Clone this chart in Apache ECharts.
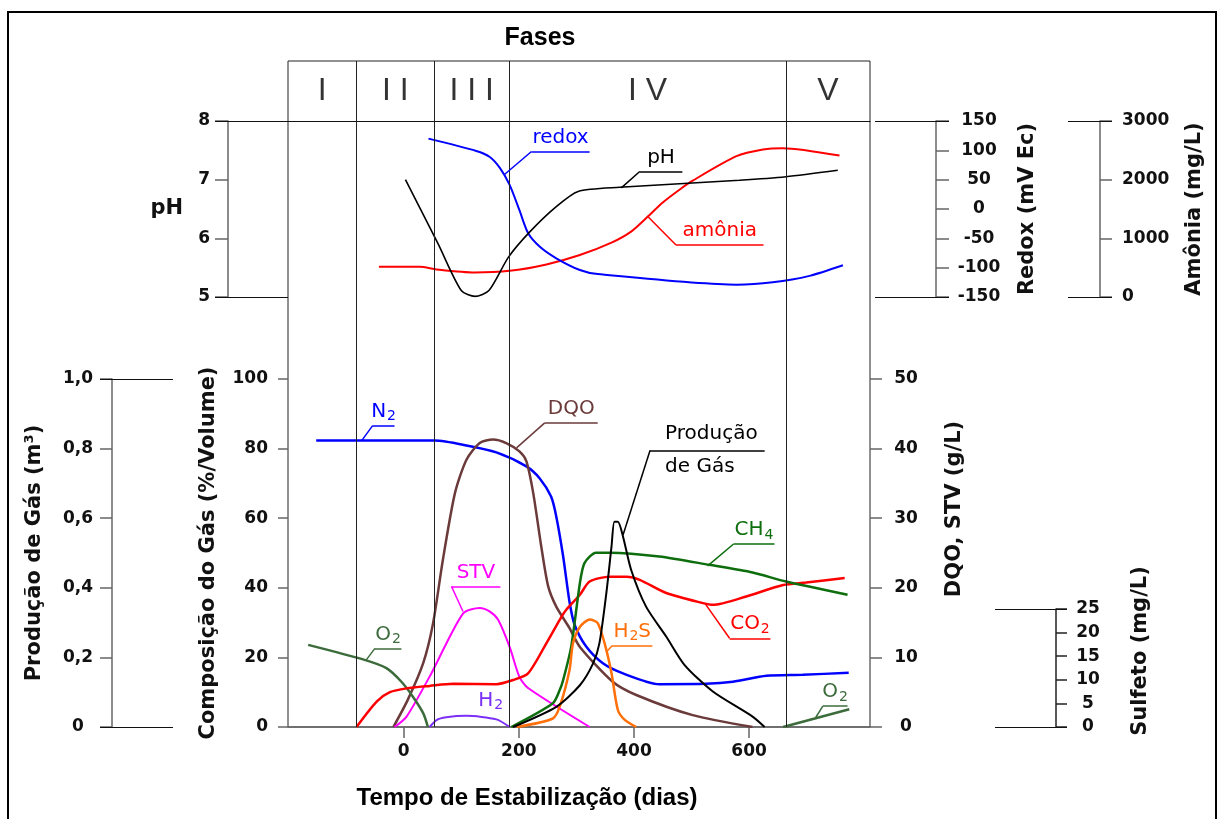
<!DOCTYPE html>
<html>
<head>
<meta charset="utf-8">
<title>Fases de estabilização</title>
<script src="https://cdn.jsdelivr.net/npm/echarts@6/dist/echarts.min.js"></script>
<style>
html, body { margin: 0; padding: 0; background: #fff; }
#container { width: 1221px; height: 819px; }
</style>
</head>
<body>
<div id="container"></div>
<script>
// eixo do tempo (dias)
var diasMin = -201, diasMax = 810;
var diasTicks = [0, 200, 400, 600];

// fases
var fases = ['I', 'II', 'III', 'IV', 'V'];
var limitesFases = [-201, -82, 53, 183, 664, 810];

// painel superior
var phDias = [3, 30, 60, 100, 124, 148, 182, 219, 265, 303, 375, 583, 664, 754];
var phValores = [7.0, 6.48, 5.9, 5.11, 5.01, 5.11, 5.68, 6.11, 6.54, 6.8, 6.87, 6.99, 7.05, 7.16];

var redoxDias = [43, 126, 149, 167, 184, 201, 216, 236, 265, 306, 337, 578, 641, 705, 763];
var redoxValores = [120, 99, 89, 70, 41, -2, -41, -64, -84, -104, -111, -129, -125, -114, -96];

var amoniaDias = [-43, 28, 57, 123, 184, 248, 306, 361, 395, 424, 450, 479, 502, 578, 624, 658, 757];
var amoniaValores = [514, 514, 470, 418, 446, 555, 715, 926, 1114, 1371, 1611, 1829, 1983, 2400, 2514, 2537, 2411];

// painel inferior - composição do gás (%)
var n2Dias = [-152, 54, 109, 161, 213, 236, 256, 265, 277, 288, 297, 317, 346, 381, 444, 525, 572, 630, 693, 773];
var n2Valores = [82.3, 82.3, 80.9, 78.9, 74.9, 71.5, 66.2, 60.5, 49, 36, 29.3, 23.1, 18.3, 15.4, 12.3, 12.4, 13, 14.7, 15, 15.6];

var o2Dias = [-166, -68, -30, -4, 16, 34, 42];
var o2Valores = [23.6, 19.3, 16.9, 13.0, 8.7, 3.9, 0];
var o2FinalDias = [659, 774];
var o2FinalValores = [0, 5.1];

var h2Dias = [45, 57, 74, 109, 161, 184];
var h2Valores = [0, 2, 2.8, 3.2, 2.2, 0];

var co2Dias = [-82, -47, -24, 5, 45, 86, 161, 190, 216, 248, 271, 282, 306, 323, 358, 387, 410, 456, 520, 537, 595, 659, 699, 766];
var co2Valores = [0, 7.3, 10, 11.1, 11.8, 12.4, 12.3, 13.5, 15.4, 24.1, 30.8, 33.6, 38, 41.8, 43.2, 43.2, 42.3, 38.5, 35.6, 35.1, 37.5, 40.8, 41.5, 42.8];

var ch4Dias = [187, 259, 271, 277, 291, 306, 314, 334, 358, 444, 531, 606, 664, 771];
var ch4Valores = [0, 6.8, 10.6, 13.5, 23.1, 41.3, 47.1, 50.1, 50.1, 49, 46.6, 44.4, 41.8, 38];

// DQO e STV (g/L)
var dqoDias = [-18, 7, 34, 51, 68, 89, 109, 132, 155, 178, 201, 213, 225, 239, 251, 265, 288, 306, 363, 404, 502, 606];
var dqoValores = [0, 3.9, 9.2, 14.9, 24, 33.6, 38.4, 40.8, 41.3, 40.8, 39.6, 38.2, 33.6, 25.9, 20.2, 17.3, 14.2, 11.5, 6.5, 4.6, 1.7, 0];

var stvDias = [-16, 5, 48, 103, 132, 149, 164, 184, 201, 216, 323];
var stvValores = [0, 1.5, 7.7, 16.3, 17.1, 16.6, 15.4, 11.5, 7.2, 5.6, 0];

// sulfeto (mg/L)
var h2sDias = [196, 259, 271, 288, 294, 306, 323, 337, 349, 361, 372, 384, 404];
var h2sValores = [0, 1.8, 4.3, 12, 17.7, 21.2, 22.8, 22, 17.7, 11.4, 3.6, 1.5, 0];

// produção de gás (m3)
var prodDias = [190, 265, 306, 329, 340, 352, 361, 366, 372, 381, 395, 421, 456, 488, 537, 606, 627];
var prodValores = [0, 0.058, 0.12, 0.183, 0.241, 0.385, 0.519, 0.59, 0.59, 0.547, 0.452, 0.346, 0.26, 0.178, 0.102, 0.03, 0];

var fonteTitulo = { fontFamily: 'DejaVu Sans', fontWeight: 'bold', fontSize: 21, color: '#111' };

function pares(xs, ys) {
	return xs.map(function (x, i) { return [x, ys[i]]; });
}

function curva(nome, dias, valores, cor, largura, xi, yi) {
	return {
		name: nome,
		type: 'line',
		xAxisIndex: xi,
		yAxisIndex: yi,
		data: pares(dias, valores),
		symbol: 'none',
		smooth: 0.25,
		silent: true,
		lineStyle: { color: cor, width: largura },
		itemStyle: { color: cor },
		z: 3
	};
}

// rótulo com linha de chamada: pontos = [na curva, início do sublinhado, fim do sublinhado]
function anotar(serie, pontos, texto) {
	var cor = serie.lineStyle.color;
	serie.markLine = {
		silent: true,
		symbol: ['none', 'none'],
		label: { show: false },
		emphasis: { disabled: true },
		lineStyle: { type: 'solid', width: 1.5, color: cor },
		data: [
			[{ coord: pontos[0] }, { coord: pontos[1] }],
			[{ coord: pontos[1] }, { coord: pontos[2] }]
		]
	};
	rotular(serie, [(pontos[1][0] + pontos[2][0]) / 2, pontos[1][1]], texto, { offset: [0, -14] });
}

function rotular(serie, coord, texto, extra) {
	var label = {
		show: true,
		position: 'inside',
		formatter: texto,
		color: serie.lineStyle.color,
		fontFamily: 'DejaVu Sans',
		fontSize: 20,
		rich: { s: { fontSize: 14, padding: [10, 0, 0, 1], color: serie.lineStyle.color, fontFamily: 'DejaVu Sans' } }
	};
	for (var k in extra) { label[k] = extra[k]; }
	serie.markPoint = {
		silent: true,
		symbol: 'circle',
		symbolSize: 1,
		itemStyle: { color: 'rgba(0,0,0,0)' },
		label: label,
		data: [{ coord: coord }]
	};
}

function eixoX(grid, extra) {
	var e = {
		gridIndex: grid, type: 'value', min: diasMin, max: diasMax,
		axisLine: { show: false, onZero: false }, axisTick: { show: false }, axisLabel: { show: false }, splitLine: { show: false }
	};
	for (var k in extra) { e[k] = extra[k]; }
	return e;
}

function eixoY(grid, min, max, extra) {
	var e = {
		gridIndex: grid, type: 'value', min: min, max: max,
		axisLine: { show: false, onZero: false }, axisTick: { show: false }, axisLabel: { show: false }, splitLine: { show: false }
	};
	for (var k in extra) { e[k] = extra[k]; }
	return e;
}

// eixo principal: linha, marcas e números
function eixoPrincipal(grid, min, max, intervalo, pos, offset, tick, margem, alinhar, nome, gap, cor) {
	var e = eixoY(grid, min, max, {
		position: pos,
		offset: offset,
		interval: intervalo,
		axisLine: { show: cor !== null, onZero: false, lineStyle: { color: cor || '#666', width: 1.5 } },
		axisTick: { show: true, length: tick, lineStyle: { color: cor || '#666', width: 1.5 } },
		axisLabel: {
			show: true, margin: margem, align: alinhar,
			fontFamily: 'DejaVu Sans', fontWeight: 'bold', fontSize: 17, color: '#111',
			formatter: function (v) { return String(v); }
		}
	});
	if (nome) {
		e.name = nome;
		e.nameLocation = 'middle';
		e.nameRotate = 90;
		e.nameGap = gap;
		e.nameTextStyle = fonteTitulo;
	}
	return e;
}

// traços horizontais nos extremos de cada escala
function eixoExtremos(grid, min, max, pos, offset, comprimento) {
	return eixoY(grid, min, max, {
		position: pos,
		offset: offset,
		axisTick: { show: true, customValues: [min, max], length: comprimento, lineStyle: { color: '#111', width: 1 } }
	});
}

var xAxes = [
	eixoX(0),
	eixoX(1, { position: 'top', axisLine: { show: true, onZero: false, lineStyle: { color: '#111', width: 1 } } }),
	eixoX(2, {
		position: 'bottom',
		axisLine: { show: true, onZero: false, lineStyle: { color: '#666', width: 1.5 } },
		axisTick: { show: true, customValues: diasTicks, length: 11, lineStyle: { color: '#666', width: 1.5 } },
		axisLabel: { show: true, customValues: diasTicks, margin: 16, fontFamily: 'DejaVu Sans', fontWeight: 'bold', fontSize: 17, color: '#111' },
		name: 'Tempo de Estabilização (dias)',
		nameLocation: 'middle',
		nameGap: 59,
		nameTextStyle: { fontFamily: 'Liberation Sans', fontWeight: 'bold', fontSize: 24, color: '#000', padding: [0, 104, 0, 0] }
	}),
	eixoX(3),
	eixoX(4, {
		position: 'top',
		name: 'Fases',
		nameLocation: 'middle',
		nameGap: 10,
		nameTextStyle: { fontFamily: 'Liberation Sans', fontWeight: 'bold', fontSize: 25, color: '#000', padding: [0, 78, 0, 0] }
	})
];

var phEixo = eixoPrincipal(1, 5, 8, 1, 'left', 60, 13, 18, 'right', null, 0, '#666');
phEixo.name = 'pH';
phEixo.nameLocation = 'middle';
phEixo.nameRotate = 0;
phEixo.nameGap = 45;
phEixo.nameTextStyle = fonteTitulo;

var prodEixo = eixoPrincipal(2, 0, 1, 0.2, 'left', 176, 12, 34, 'center', 'Produção de Gás (m³)', 67, '#666');
prodEixo.axisLabel.formatter = function (v) { return v === 0 ? '0' : v.toFixed(1).replace('.', ','); };

var dqoEixo = eixoPrincipal(2, 0, 50, 10, 'right', 0, 12, 36, 'center', 'DQO, STV (g/L)', 74, null);
dqoEixo.nameTextStyle = { fontFamily: 'DejaVu Sans', fontWeight: 'bold', fontSize: 21, color: '#111', padding: [0, 0, 0, 88] };

var sulfetoEixo = eixoPrincipal(3, 0, 25, 5, 'right', 186, 11, 32, 'center', 'Sulfeto (mg/L)', 74, '#222');
sulfetoEixo.nameTextStyle = { fontFamily: 'DejaVu Sans', fontWeight: 'bold', fontSize: 21, color: '#111', padding: [0, 0, 0, 34] };

var yAxes = [
	phEixo,                                                                                         // 0
	eixoExtremos(1, 5, 8, 'left', 0, 73),                                                          // 1
	eixoPrincipal(1, -150, 150, 50, 'right', 66, 13, 43, 'center', 'Redox (mV Ec)', 81, '#666'),  // 2
	eixoExtremos(1, -150, 150, 'right', 5, 74),                                                    // 3
	eixoPrincipal(1, 0, 3000, 1000, 'right', 230, 12, 22, 'left', 'Amônia (mg/L)', 84, '#666'),   // 4
	eixoExtremos(1, 0, 3000, 'right', 198, 44),                                                    // 5
	eixoPrincipal(2, 0, 100, 20, 'left', 0, 10, 20, 'right', 'Composição do Gás (%/Volume)', 69, null), // 6
	prodEixo,                                                                                       // 7
	eixoExtremos(2, 0, 1, 'left', 115, 73),                                                        // 8
	dqoEixo,                                                                                        // 9
	sulfetoEixo,                                                                                    // 10
	eixoExtremos(3, 0, 25, 'right', 125, 72),                                                      // 11
	eixoY(0, 0, 1),                                                                                 // 12
	eixoY(4, 0, 1)                                                                                  // 13
];

// curvas
var sPh = curva('pH', phDias, phValores, '#000000', 1.6, 1, 0);
var sRedox = curva('redox', redoxDias, redoxValores, '#0000FF', 2, 1, 2);
var sAmonia = curva('amônia', amoniaDias, amoniaValores, '#FF0000', 2, 1, 4);
var sN2 = curva('N2', n2Dias, n2Valores, '#0000FF', 2.5, 2, 6);
var sDqo = curva('DQO', dqoDias, dqoValores, '#6B3A3A', 2.5, 2, 9);
var sStv = curva('STV', stvDias, stvValores, '#FF00FF', 2, 2, 9);
var sO2 = curva('O2', o2Dias, o2Valores, '#3C6B3C', 2.5, 2, 6);
var sO2b = curva('O2', o2FinalDias, o2FinalValores, '#3C6B3C', 2.5, 2, 6);
var sH2 = curva('H2', h2Dias, h2Valores, '#7B2FF7', 2, 2, 6);
var sCo2 = curva('CO2', co2Dias, co2Valores, '#FF0000', 2.5, 2, 6);
var sCh4 = curva('CH4', ch4Dias, ch4Valores, '#0E6E0E', 2.5, 2, 6);
var sH2s = curva('H2S', h2sDias, h2sValores, '#FF700A', 2.5, 3, 10);
var sProd = curva('Produção de Gás', prodDias, prodValores, '#000000', 2, 2, 7);

anotar(sRedox, [[174, 58], [222, 98], [323, 98]], 'redox');
anotar(sPh, [[378, 6.86], [410, 7.14], [484, 7.14]], 'pH');
anotar(sAmonia, [[424, 1371], [473, 886], [625, 886]], 'amônia');
anotar(sN2, [[-73, 82.3], [-54, 86.6], [-16, 86.6]], 'N{s|2}');
anotar(sDqo, [[196, 40.1], [245, 43.7], [337, 43.7]], 'DQO');
anotar(sStv, [[103, 16.6], [83, 20.2], [168, 20.2]], 'STV');
anotar(sO2, [[-65, 19.3], [-50, 22.6], [-4, 22.6]], 'O{s|2}');
anotar(sO2b, [[716, 2.8], [728, 6.0], [771, 6.0]], 'O{s|2}');
anotar(sCo2, [[523, 35.6], [566, 25.5], [637, 25.5]], 'CO{s|2}');
anotar(sCh4, [[528, 46.3], [573, 52.6], [644, 52.6]], 'CH{s|4}');
anotar(sH2s, [[352, 15.9], [362, 17.2], [432, 17.2]], 'H{s|2}S');
rotular(sH2, [151, 7.6], 'H{s|2}', {});
anotar(sProd, [[381, 0.552], [428, 0.795], [627, 0.795]], 'Produção\nde Gás');
sProd.markPoint.data = [{ coord: [428, 0.795] }];
sProd.markPoint.label.align = 'left';
sProd.markPoint.label.offset = [15, 0];
sProd.markPoint.label.lineHeight = 33;

// divisões das fases e nomes
var sDivisoes = {
	type: 'line',
	xAxisIndex: 0,
	yAxisIndex: 12,
	data: [],
	silent: true,
	markLine: {
		silent: true,
		symbol: ['none', 'none'],
		label: { show: false },
		emphasis: { disabled: true },
		lineStyle: { type: 'solid', width: 1, color: '#222' },
		data: limitesFases.slice(1, -1).map(function (v) { return { xAxis: v }; })
	}
};

var sFases = {
	type: 'scatter',
	xAxisIndex: 4,
	yAxisIndex: 13,
	symbolSize: 1,
	silent: true,
	itemStyle: { color: 'rgba(0,0,0,0)' },
	data: fases.map(function (f, i) {
		return { name: f, value: [(limitesFases[i] + limitesFases[i + 1]) / 2, 0.5] };
	}),
	label: {
		show: true,
		position: 'inside',
		formatter: function (p) { return p.name.split('').join(' '); },
		fontFamily: 'Liberation Sans',
		fontSize: 32,
		color: '#000'
	}
};

var option = {
	animation: false,
	backgroundColor: '#ffffff',
	graphic: [{
		type: 'rect',
		shape: { x: 8, y: 12, width: 1208, height: 840 },
		style: { fill: null, stroke: '#000', lineWidth: 2 },
		silent: true
	}],
	grid: [
		{ left: 288, right: 351, top: 61, bottom: 92, show: true, borderColor: '#222', borderWidth: 1 },
		{ left: 288, right: 351, top: 121, height: 176 },
		{ left: 288, right: 351, top: 379, bottom: 92 },
		{ left: 288, right: 351, top: 609, bottom: 92 },
		{ left: 288, right: 351, top: 61, height: 60 }
	],
	xAxis: xAxes,
	yAxis: yAxes,
	series: [sDivisoes, sFases, sAmonia, sRedox, sPh, sN2, sDqo, sStv, sO2, sO2b, sH2, sCo2, sCh4, sH2s, sProd]
};

var myChart = echarts.init(document.getElementById('container'));
myChart.setOption(option);
</script>
</body>
</html>
